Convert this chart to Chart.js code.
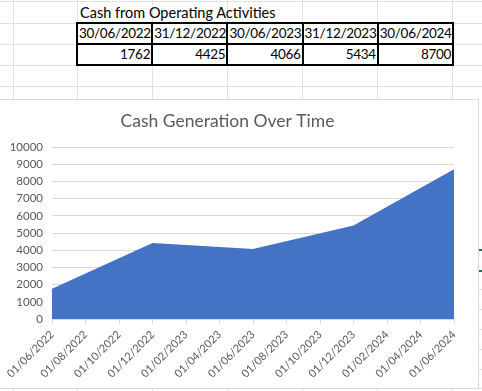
<!DOCTYPE html>
<html>
<head>
<meta charset="utf-8">
<script src="https://cdn.jsdelivr.net/npm/chart.js@4.4.0/dist/chart.umd.min.js"></script>
<style>
  html, body { margin: 0; padding: 0; background: #fff; }
  body { width: 482px; height: 391px; position: relative; overflow: hidden; font-family: Lato, "Liberation Sans", sans-serif; }
  .vl { position: absolute; top: 0; width: 1px; height: 391px; background: #e1e1e1; }
  .hl { position: absolute; left: 0; height: 1px; width: 482px; background: #e1e1e1; }
  #caption { position: absolute; left: 80px; top: 4px; font-size: 14.5px; color: #000; }
  #tbl { position: absolute; left: 76px; top: 22px; border-collapse: collapse; table-layout: fixed; width: 378px; font-size: 13.5px; letter-spacing: -0.3px; color: #000; }
  #tbl td { border: 2px solid #000; height: 19px; padding: 0 1px; line-height: 19px; overflow: hidden; white-space: nowrap; }
  #tbl tr.num td { text-align: right; }
  #box { position: absolute; left: -2px; top: 99px; width: 479px; height: 288px; background: #fff; border: 1px solid #d9d9d9; }
  #myChart { position: absolute; left: 2px; top: 0; }
  .sel { position: absolute; left: 479px; width: 3px; height: 2px; background: #217346; }
</style>
</head>
<body>
<div class="hl" style="top:1px"></div>
<div class="hl" style="top:23px"></div>
<div class="hl" style="top:44px"></div>
<div class="hl" style="top:65px"></div>
<div class="hl" style="top:86px"></div>
<div class="hl" style="top:289px"></div>
<div class="hl" style="top:309px"></div>
<div class="hl" style="top:329px"></div>
<div class="hl" style="top:349px"></div>
<div class="hl" style="top:369px"></div>
<div class="hl" style="top:388px"></div>
<div class="vl" style="left:13px"></div>
<div class="vl" style="left:77px"></div>
<div class="vl" style="left:152px"></div>
<div class="vl" style="left:227px"></div>
<div class="vl" style="left:302px"></div>
<div class="vl" style="left:377px"></div>
<div class="vl" style="left:452px"></div>
<div class="sel" style="top:249px"></div>
<div class="sel" style="top:270px"></div>

<div id="caption">Cash from Operating Activities</div>
<table id="tbl">
  <tr id="headRow"></tr>
  <tr id="numRow" class="num"></tr>
</table>

<div id="box"><canvas id="myChart" width="477" height="288"></canvas></div>

<script>
let periods = ['30/06/2022', '31/12/2022', '30/06/2023', '31/12/2023', '30/06/2024'];
let cashValues = [1762, 4425, 4066, 5434, 8700];
let tickLabels = ['01/06/2022', '01/08/2022', '01/10/2022', '01/12/2022',
    '01/02/2023', '01/04/2023', '01/06/2023', '01/08/2023', '01/10/2023',
    '01/12/2023', '01/02/2024', '01/04/2024', '01/06/2024'];

// table at the top
let headRow = document.getElementById('headRow');
let numRow = document.getElementById('numRow');
periods.forEach(function(p, i) {
    let th = document.createElement('td');
    th.textContent = p;
    headRow.appendChild(th);
    let td = document.createElement('td');
    td.textContent = cashValues[i];
    numRow.appendChild(td);
});

// Excel puts each date on the month it falls in (months since Jun 2022)
function monthIndex(d) {
    let parts = d.split('/');
    return (parseInt(parts[2]) - 2022) * 12 + parseInt(parts[1]) - 6;
}
let points = periods.map(function(p, i) {
    return { x: monthIndex(p), y: cashValues[i] };
});

const grey = '#595959';
let chartElement = document.getElementById('myChart').getContext('2d');

let myChart = new Chart(chartElement, {
    type: 'line',
    data: {
        datasets: [{
            data: points,
            fill: 'origin',
            backgroundColor: '#4472C4',
            borderWidth: 0,
            pointRadius: 0,
            tension: 0
        }]
    },
    options: {
        responsive: false,
        animation: false,
        layout: { padding: { left: 0, right: 24, top: 0, bottom: 0 } },
        plugins: {
            legend: { display: false },
            tooltip: { enabled: false },
            title: {
                display: true,
                text: 'Cash Generation Over Time',
                color: grey,
                font: { family: 'Lato', size: 17.5, weight: 'normal' },
                padding: { top: 11, bottom: 15 }
            }
        },
        scales: {
            x: {
                type: 'linear',
                min: 0,
                max: 24,
                afterFit: function(axis) { axis.height = 69; },
                ticks: {
                    stepSize: 2,
                    autoSkip: false,
                    maxRotation: 45,
                    minRotation: 45,
                    padding: 4,
                    color: grey,
                    font: { family: 'Lato', size: 11 },
                    callback: function(v) { return tickLabels[v / 2]; }
                },
                grid: { drawOnChartArea: false, color: '#d9d9d9', tickLength: 5 },
                border: { color: '#d9d9d9' }
            },
            y: {
                min: 0,
                max: 10000,
                afterFit: function(axis) { axis.width = 51; },
                ticks: {
                    stepSize: 1000,
                    padding: 9,
                    color: grey,
                    font: { family: 'Lato', size: 11.5 },
                    callback: function(v) { return String(v); }
                },
                grid: { color: '#d9d9d9', drawTicks: false },
                border: { display: false }
            }
        }
    }
});
</script>
</body>
</html>
